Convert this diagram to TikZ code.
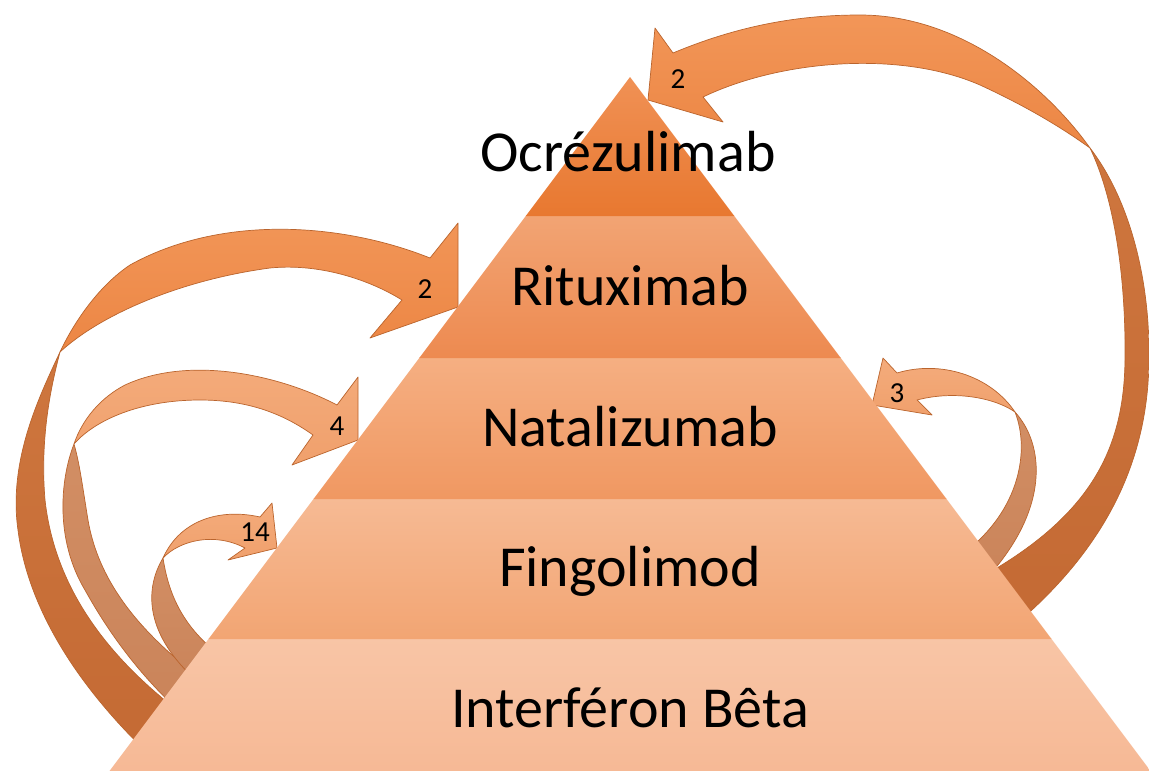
\documentclass[tikz,border=0pt]{standalone}
\usepackage{fontspec}
\setmainfont{Carlito}
\definecolor{edgeC}{RGB}{186,100,45}
\definecolor{frontBigT}{RGB}{242,150,88}
\definecolor{frontBigB}{RGB}{236,134,68}
\definecolor{backBigT}{RGB}{206,118,62}
\definecolor{backBigB}{RGB}{196,106,52}
\definecolor{frontSmT}{RGB}{244,172,124}
\definecolor{frontSmB}{RGB}{240,160,108}
\definecolor{backSmT}{RGB}{210,142,100}
\definecolor{backSmB}{RGB}{202,132,90}
\definecolor{lOneT}{RGB}{240,145,85}
\definecolor{lOneB}{RGB}{232,120,48}
\definecolor{lTwoT}{RGB}{242,164,116}
\definecolor{lTwoB}{RGB}{237,138,80}
\definecolor{lThreeT}{RGB}{245,175,130}
\definecolor{lThreeB}{RGB}{240,152,98}
\definecolor{lFourT}{RGB}{246,186,148}
\definecolor{lFourB}{RGB}{242,165,115}
\definecolor{lFiveT}{RGB}{248,197,166}
\definecolor{lFiveB}{RGB}{246,184,148}
\begin{document}
\begin{tikzpicture}[x=1pt,y=-1pt,
  aline/.style={draw=edgeC, line width=0.7pt, line join=round},
  frontbig/.style={aline, top color=frontBigT, bottom color=frontBigB},
  backbig/.style={aline, top color=backBigT, bottom color=backBigB},
  frontsm/.style={aline, top color=frontSmT, bottom color=frontSmB},
  backsm/.style={aline, top color=backSmT, bottom color=backSmB},
  lyr/.style={font=\fontsize{58}{62}\selectfont, anchor=base, text=black, inner sep=0pt},
  num/.style={font=\fontsize{29}{32}\selectfont, anchor=base, text=black, inner sep=0pt}]
\useasboundingbox (0,0) rectangle (1149,771);
\clip (0,0) rectangle (1149,771);
\fill[white] (0,0) rectangle (1149,771);

% ---- Arrow A (right, to Ocrezulimab) ----
\coordinate (tA) at (1090,148);
\path[backbig] (tA) .. controls (1130,200) and (1150,280) .. (1149,360)
  .. controls (1148,450) and (1115,540) .. (1015,625) -- (985,575)
  .. controls (1090,515) and (1124,450) .. (1125,360)
  .. controls (1126,280) and (1115,200) .. (tA) -- cycle;
\path[frontbig] (655,28) -- (648,100) -- (723,122) -- (703,97)
  .. controls (780,60) and (900,50) .. (980,85)
  .. controls (1030,108) and (1065,130) .. (tA)
  .. controls (1045,85) and (960,15) .. (860,15)
  .. controls (800,15) and (740,25) .. (673,53) -- cycle;

% ---- Arrow 3 (right, to Natalizumab) ----
\coordinate (t3) at (1015,412);
\path[backsm] (t3) .. controls (1045,445) and (1050,510) .. (985,580) -- (965,552)
  .. controls (1020,510) and (1030,450) .. (t3) -- cycle;
\path[frontsm] (883,358) -- (872,405) -- (932,415) -- (917,400)
  .. controls (955,390) and (995,398) .. (t3)
  .. controls (990,375) and (940,360) .. (897,373) -- cycle;

% ---- Arrow B (left, to Rituximab) ----
\coordinate (tB) at (60,352);
\path[backbig] (tB) .. controls (40,395) and (8,460) .. (18,530)
  .. controls (28,610) and (80,690) .. (155,760) -- (185,716)
  .. controls (110,660) and (55,590) .. (45,500)
  .. controls (40,440) and (50,390) .. (tB) -- cycle;
\path[frontbig] (458,223) -- (458,307) -- (370,338) -- (402,300)
  .. controls (370,280) and (320,263) .. (270,268)
  .. controls (180,280) and (100,315) .. (tB)
  .. controls (75,320) and (100,285) .. (130,265)
  .. controls (220,215) and (340,222) .. (430,258) -- cycle;

% ---- Arrow 4 (left, to Natalizumab) ----
\coordinate (t4) at (74,444);
\path[backsm] (t4) .. controls (60,480) and (55,540) .. (85,590)
  .. controls (110,635) and (140,675) .. (180,712) -- (205,682)
  .. controls (150,640) and (100,590) .. (88,520)
  .. controls (83,490) and (80,465) .. (t4) -- cycle;
\path[frontsm] (358,377) -- (358,440) -- (292,465) -- (313,435)
  .. controls (285,415) and (250,400) .. (200,400)
  .. controls (140,400) and (95,420) .. (t4)
  .. controls (82,420) and (100,398) .. (125,385)
  .. controls (190,355) and (280,375) .. (337,405) -- cycle;

% ---- Arrow 14 (left, to Fingolimod) ----
\coordinate (t14) at (163,558);
\path[backsm] (t14) .. controls (144,590) and (145,635) .. (198,682) -- (220,655)
  .. controls (180,625) and (168,590) .. (t14) -- cycle;
\path[frontsm] (272,503) -- (277,548) -- (228,560) -- (245,548)
  .. controls (215,532) and (180,540) .. (t14)
  .. controls (180,520) and (220,508) .. (260,517) -- cycle;

% ---- Pyramid ----
\shade[top color=lFiveT, bottom color=lFiveB] (209.25,638) -- (1050.75,638) -- (1158,781) -- (102,781) -- cycle;
\shade[top color=lFourT, bottom color=lFourB] (314.25,498) -- (945.75,498) -- (1051.5,639) -- (208.5,639) -- cycle;
\shade[top color=lThreeT, bottom color=lThreeB] (420,357) -- (840,357) -- (946.5,499) -- (313.5,499) -- cycle;
\shade[top color=lTwoT, bottom color=lTwoB] (526.5,215) -- (733.5,215) -- (840.75,358) -- (419.25,358) -- cycle;
\shade[top color=lOneT, bottom color=lOneB] (630,77) -- (734.25,216) -- (525.75,216) -- cycle;

% ---- Texts ----
\node[lyr] (ocre) at (628,171) {Ocrézulimab};
\node[lyr] (ritu) at (630,305) {Rituximab};
\node[lyr] (nata) at (630,446) {Natalizumab};
\node[lyr] (fing) at (630,586) {Fingolimod};
\node[lyr] (inter) at (630,727) {Interféron Bêta};

\node[num] (nA) at (678,88) {2};
\node[num] (nB) at (425,298) {2};
\node[num] (nC) at (337,435) {4};
\node[num] (nD) at (255,541) {14};
\node[num] (nE) at (897,402) {3};
\end{tikzpicture}
\end{document}
